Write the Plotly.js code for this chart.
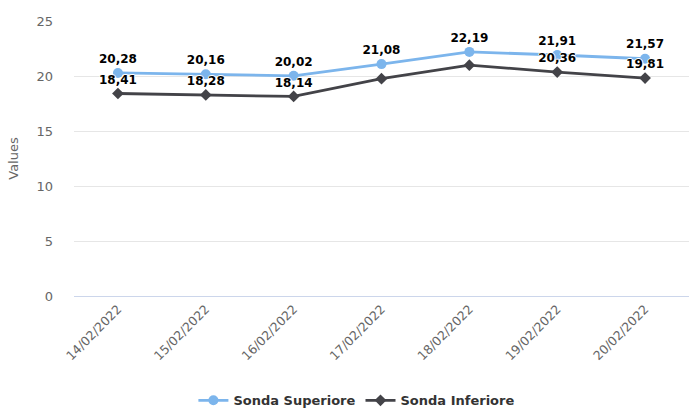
<!DOCTYPE html>
<html>
<head>
<meta charset="utf-8">
<script src="https://cdn.plot.ly/plotly-3.0.1.min.js"></script>
<style>html,body{margin:0;padding:0;background:#fff;}#chart{width:689px;height:410px;}</style>
</head>
<body>
<div id="chart"></div>
<script>
const dates = ["14/02/2022","15/02/2022","16/02/2022","17/02/2022","18/02/2022","19/02/2022","20/02/2022"];
const sondaSuperiore = [20.28, 20.16, 20.02, 21.08, 22.19, 21.91, 21.57];
const sondaInferiore = [18.41, 18.28, 18.14, 19.76, 20.98, 20.36, 19.81];
const showLabelsInf = [true, true, true, false, false, true, true];
const yTicks = [0, 5, 10, 15, 20, 25];

const fmt = v => v.toFixed(2).replace('.', ',');
const font = "DejaVu Sans, sans-serif";
const outline = "1px 0 0 #fff, -1px 0 0 #fff, 0 1px 0 #fff, 0 -1px 0 #fff";

const traces = [
  {
    name: "Sonda Superiore",
    x: dates, y: sondaSuperiore,
    mode: "lines+markers+text",
    text: sondaSuperiore.map(fmt),
    textposition: "top center",
    textfont: {family: font, size: 12, color: "#000", weight: "bold", shadow: outline},
    line: {color: "#7cb5ec", width: 2.8},
    marker: {symbol: "circle", size: 10, color: "#7cb5ec"},
    cliponaxis: false,
    hoverinfo: "x+y"
  },
  {
    name: "Sonda Inferiore",
    x: dates, y: sondaInferiore,
    mode: "lines+markers+text",
    text: sondaInferiore.map((v,i) => showLabelsInf[i] ? fmt(v) : ""),
    textposition: "top center",
    textfont: {family: font, size: 12, color: "#000", weight: "bold", shadow: outline},
    line: {color: "#434348", width: 2.8},
    marker: {symbol: "diamond", size: 9, color: "#434348"},
    cliponaxis: false,
    hoverinfo: "x+y"
  }
];

const layout = {
  width: 689, height: 410,
  margin: {l: 74, r: 0, t: 21, b: 114, autoexpand: false},
  paper_bgcolor: "#fff", plot_bgcolor: "#fff",
  font: {family: font, color: "#666", size: 11},
  showlegend: true,
  legend: {
    orientation: "h", x: 0.46, xanchor: "center", y: -0.325, yanchor: "top",
    font: {family: font, size: 13, color: "#333", weight: "bold"},
    traceorder: "normal", itemwidth: 30
  },
  xaxis: {
    type: "category", range: [-0.5, 6.5],
    tickangle: -45, showgrid: false, zeroline: false,
    showline: true, linecolor: "#ccd6eb", linewidth: 1,
    ticks: "", tickfont: {family: font, size: 12.5, color: "#666"},
    fixedrange: true
  },
  yaxis: {
    range: [0, 25], tickvals: yTicks, ticktext: yTicks.map(String),
    showgrid: true, gridcolor: "#e6e6e6", gridwidth: 1,
    zeroline: false, showline: false,
    ticks: "", ticklabelstandoff: 20,
    tickfont: {family: font, size: 13, color: "#666"},
    title: {text: "Values", font: {family: font, size: 13, color: "#666"}, standoff: 14},
    fixedrange: true
  }
};

Plotly.newPlot("chart", traces, layout, {displayModeBar: false, staticPlot: true});
</script>
</body>
</html>
